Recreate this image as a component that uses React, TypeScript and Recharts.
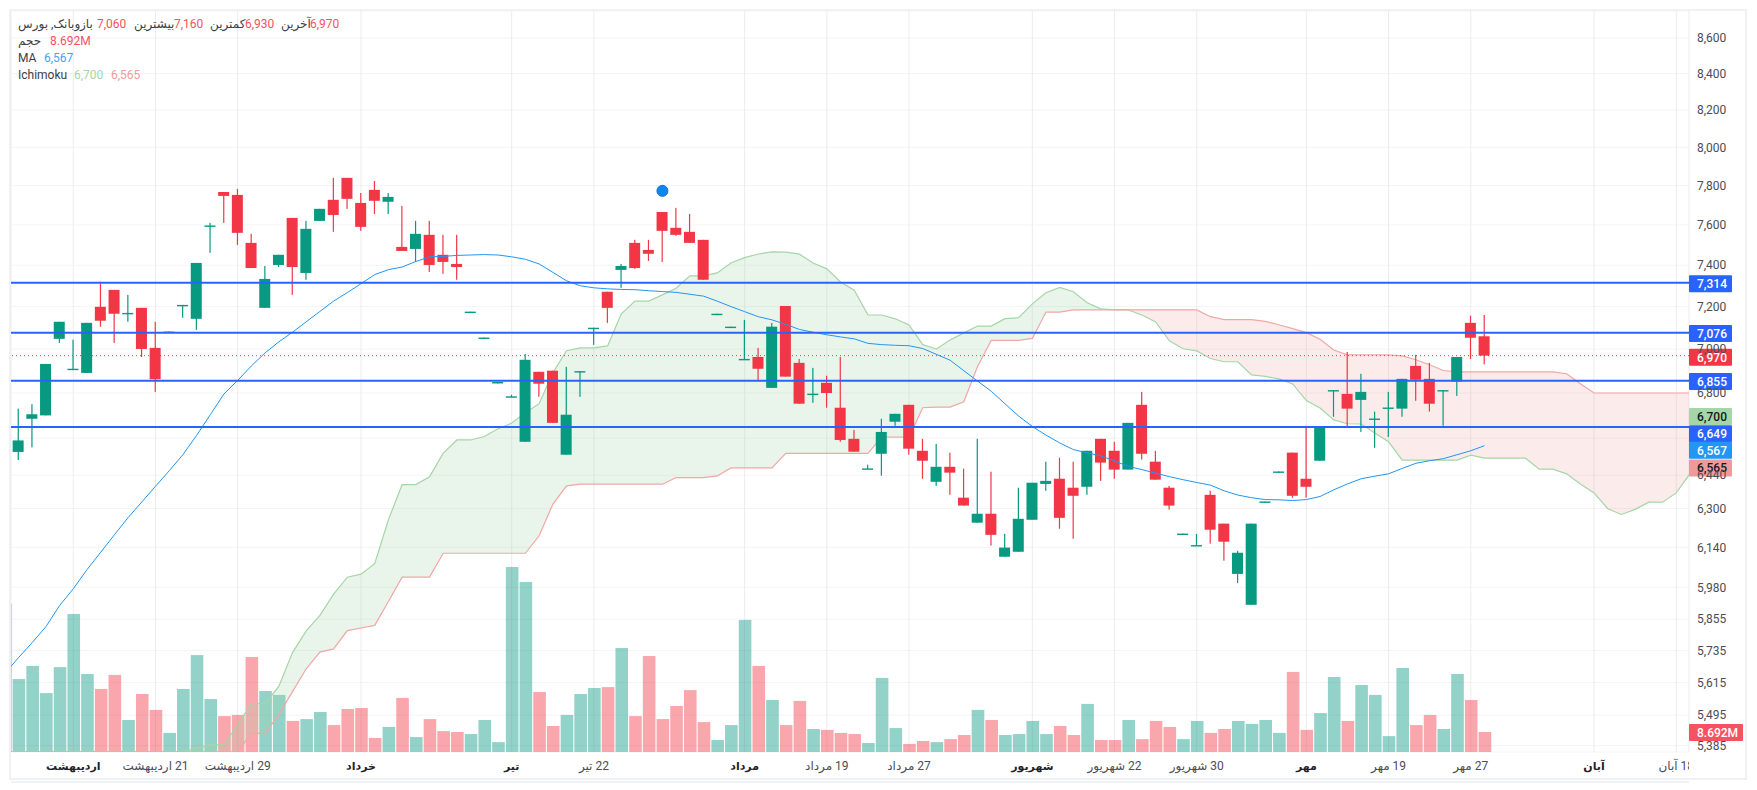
import React from 'react';
import { ComposedChart, Bar, Line, Area, XAxis, YAxis, CartesianGrid, ReferenceLine, ReferenceDot } from 'recharts';

const FONT = "Roboto, 'DejaVu Sans', sans-serif";
const UP = '#089981';
const DOWN = '#f23645';
const BLUE = '#2962ff';
const SPAN_A = '#a5d6a7';
const SPAN_B = '#ef9a9a';
const MA_COLOR = '#2196f3';

const opens = [
  6540,6685,6700,7048,6908,6891,7199,7280,7166,7194,
  7006,7078,7208,7142,7595,7767,7752,7510,7194,7401,
  7635,7362,7620,7727,7840,7711,7778,7717,7490,7480,
  7550,7451,7406,7172,7050,6843,6782,6584,6896,6901,
  6528,6899,7100,7271,7377,7510,7475,7665,7585,7565,
  7525,7162,7101,6952,6964,6823,7203,6937,6793,6846,
  6734,6597,6466,6532,6672,6747,6545,6412,6476,6345,
  6241,6278,6102,6122,6253,6403,6425,6387,6391,6597,
  6545,6464,6747,6498,6387,6192,6146,6357,6237,6033,
  5911,6325,6452,6537,6425,6502,6812,6796,6769,6682,
  6731,6730,6923,6864,6812,6852,7123,7060,
];
const highs = [
  6730,6750,6932,7128,7044,7123,7319,7280,7256,7194,
  7128,7082,7208,7411,7610,7767,7783,7555,7396,7451,
  7635,7620,7681,7840,7840,7762,7824,7762,7696,7620,
  7620,7550,7550,7176,7054,6850,6792,6978,6896,6901,
  6919,6899,7100,7271,7406,7525,7525,7665,7686,7655,
  7525,7166,7105,7137,7006,7123,7203,6955,6914,6878,
  6964,6636,6485,6685,6707,6747,6597,6575,6537,6468,
  6597,6455,6195,6387,6408,6498,6515,6498,6545,6597,
  6584,6667,6805,6545,6395,6196,6195,6374,6237,6126,
  6237,6329,6456,6537,6654,6646,6813,6987,6887,6717,
  6805,6864,6974,6937,6813,6964,7157,7160,
];
const lows = [
  6505,6560,6700,7029,6905,6891,7105,7029,7128,6964,
  6805,7078,7147,7090,7461,7610,7500,7386,7194,7391,
  7256,7329,7620,7565,7681,7570,7655,7655,7470,7416,
  7367,7358,7329,7172,7050,6843,6782,6584,6783,6667,
  6528,6783,7020,7123,7290,7382,7421,7416,7545,7510,
  7329,7162,7101,6952,6855,6823,6874,6752,6756,6734,
  6584,6541,6466,6438,6654,6528,6425,6395,6357,6312,
  6241,6147,6102,6122,6253,6374,6216,6175,6357,6416,
  6425,6464,6507,6421,6295,6192,6146,6155,6086,5997,
  5911,6325,6452,6345,6345,6502,6694,6650,6627,6558,
  6605,6694,6765,6717,6654,6787,6955,6930,
];
const closes = [
  6590,6705,6932,7128,6910,7123,7133,7166,7170,7001,
  6862,7082,7208,7411,7597,7747,7560,7386,7333,7451,
  7391,7580,7681,7650,7732,7590,7722,7742,7470,7555,
  7401,7416,7391,7176,7054,6850,6785,6951,6842,6667,
  6703,6899,7100,7194,7396,7386,7456,7570,7550,7510,
  7329,7166,7105,6955,6910,7105,6874,6752,6797,6800,
  6592,6541,6469,6627,6707,6554,6502,6476,6451,6312,
  6278,6191,6139,6257,6408,6416,6261,6353,6545,6494,
  6464,6667,6532,6421,6312,6196,6149,6212,6163,6118,
  6237,6329,6456,6353,6391,6646,6813,6730,6805,6686,
  6735,6864,6860,6752,6813,6964,7053,6970,
];
// The next lists start one bar before the first candle (partly hidden at the left edge).
const volumes = [
  64.6,
  31.7,37.4,25.6,36.9,60.0,33.9,27.4,33.5,13.9,25.2,
  18.3,8.3,27.4,42.1,23.0,15.6,16.1,41.3,26.5,24.8,
  13.5,14.3,17.4,11.7,18.7,19.1,6.1,10.9,23.5,6.5,
  14.3,9.1,8.7,7.8,13.9,4.3,80.4,73.9,26.1,11.3,
  16.1,25.2,27.8,28.2,45.2,15.6,41.7,14.3,20.0,26.9,
  13.0,5.2,11.7,57.4,37.4,22.6,11.7,22.2,10.0,9.6,
  8.3,7.8,3.9,32.2,10.4,3.5,4.8,4.3,5.6,7.4,
  18.3,13.9,7.4,7.8,13.5,7.8,11.3,7.4,20.9,5.2,
  5.2,13.9,5.6,13.5,10.9,5.6,13.5,8.3,10.0,13.5,
  12.2,13.9,8.3,34.8,9.6,16.9,32.6,13.5,29.1,24.8,
  6.9,36.5,11.7,16.1,10.0,33.9,22.6,8.692,
];
const maValues = [
  5648,
  5708,5765,5826,5908,5974,6050,6120,6191,6262,6327,
  6393,6459,6528,6612,6703,6796,6857,6923,6983,7034,
  7079,7128,7177,7226,7267,7310,7354,7378,7391,7418,
  7441,7443,7448,7450,7452,7450,7441,7429,7406,7365,
  7324,7300,7290,7285,7282,7281,7276,7272,7268,7259,
  7250,7226,7200,7176,7152,7137,7116,7092,7079,7067,
  7057,7048,7027,7021,7018,7016,7003,6976,6949,6901,
  6854,6808,6752,6697,6651,6613,6579,6550,6536,6523,
  6501,6478,6464,6449,6434,6421,6409,6398,6374,6356,
  6345,6337,6336,6333,6337,6350,6378,6403,6425,6436,
  6446,6469,6491,6502,6511,6528,6545,6567,
];
const spanA = [
  5363,
  5363,5363,5363,5363,5363,5363,5363,5363,5363,5363,
  5363,5363,5363,5377,5388,5388,5461,5537,5537,5600,
  5727,5810,5870,5953,6020,6032,6074,6253,6400,6400,
  6433,6535,6592,6592,6607,6641,6666,6712,6752,6891,
  6993,7006,7006,7015,7166,7226,7226,7256,7288,7348,
  7348,7362,7411,7437,7455,7465,7464,7454,7411,7382,
  7318,7278,7161,7160,7142,7113,7021,7001,7043,7076,
  7108,7108,7143,7147,7213,7266,7292,7271,7218,7189,
  7184,7184,7160,7127,7039,7002,6992,6957,6942,6942,
  6882,6875,6864,6841,6766,6733,6680,6663,6662,6622,
  6584,6505,6505,6505,6505,6505,6526,6513,6513,6513,
  6513,6466,6466,6446,6403,6365,6299,6275,6296,6326,
  6326,6365,6446,
];
const spanB = [
  5363,
  5363,5363,5363,5363,5363,5363,5363,5363,5363,5363,
  5363,5363,5363,5363,5363,5363,5363,5429,5429,5497,
  5581,5666,5729,5741,5811,5821,5831,5924,6020,6020,
  6020,6116,6116,6116,6116,6116,6116,6116,6187,6317,
  6395,6402,6402,6402,6402,6402,6402,6402,6430,6430,
  6430,6437,6471,6471,6471,6471,6534,6534,6534,6534,
  6534,6534,6534,6604,6604,6604,6734,6737,6737,6761,
  6920,7041,7041,7041,7050,7174,7174,7184,7184,7184,
  7184,7184,7184,7184,7184,7184,7184,7152,7138,7138,
  7138,7130,7114,7096,7077,7046,6996,6974,6974,6974,
  6974,6969,6951,6928,6902,6896,6896,6896,6896,6896,
  6896,6896,6896,6887,6842,6800,6800,6800,6800,6800,
  6800,6800,6800,
];

const priceTicks = [8600,8400,8200,8000,7800,7600,7400,7200,7000,6800,6600,6440,6300,6140,5980,5855,5735,5615,5495,5385];
const hiddenTickLabels = [6600];
const dateTickIndex = [4,10,16,25,36,42,53,59,65,74,80,86,94,100,106,115,121];
const dateTickLabels = ['اردیبهشت','21 اردیبهشت','29 اردیبهشت','خرداد','تیر','22 تیر','مرداد','19 مرداد','27 مرداد','شهریور','22 شهریور','30 شهریور','مهر','19 مهر','27 مهر','آبان','18 آبان'];
const monthTicks = [4,25,36,53,74,94,115];

const levelLines = [7314, 7076, 6855, 6649];
const lastClose = 6970;
const lastVolume = 8.692;
const signalIndex = 47;
const signalPrice = 7773;
const legendRows = [
  { top: 15, items: [
    { x: 18, t: 'وبانک, بورس', c: '#3b3e47' }, { x: 80, t: 'باز', c: '#3b3e47' }, { x: 97, t: '7,060', c: '#f7525f' },
    { x: 134, t: 'بیشترین', c: '#3b3e47' }, { x: 174, t: '7,160', c: '#f7525f' }, { x: 210, t: 'کمترین', c: '#3b3e47' },
    { x: 245, t: '6,930', c: '#f7525f' }, { x: 281, t: 'آخرین', c: '#3b3e47' }, { x: 310, t: '6,970', c: '#f7525f' },
  ] },
  { top: 32, items: [{ x: 18, t: 'حجم', c: '#3b3e47' }, { x: 50, t: '8.692M', c: '#f7525f' }] },
  { top: 49, items: [{ x: 18, t: 'MA', c: '#3b3e47' }, { x: 44, t: '6,567', c: '#42a5f5' }] },
  { top: 66, items: [{ x: 18, t: 'Ichimoku', c: '#3b3e47' }, { x: 74, t: '6,700', c: '#a5d6a7' }, { x: 111, t: '6,565', c: '#ef9a9a' }] },
];

const rows = spanA.map((_, k) => {
  const c = k - 1;
  const o = opens[c];
  const hasCandle = o !== undefined;
  const a = spanA[k];
  const b = spanB[k];
  return {
    i: c,
    volume: volumes[k] ?? null,
    ma: maValues[k] ?? null,
    a,
    b,
    cloudUp: c <= 81 ? [b, a] : null,
    cloudDown: c >= 81 ? [a, b] : null,
    wick: hasCandle ? [lows[c], highs[c]] : null,
    body: hasCandle ? [Math.min(o, closes[c]), Math.max(o, closes[c])] : null,
    up: hasCandle ? closes[c] >= o : k > 0 ? false : true,
  };
});

const XMIN = -0.547;
const XMAX = 121.93;

function CandlePart(p: any) {
  if (!p.payload || !p.payload.body) return null;
  const color = p.payload.up ? UP : DOWN;
  const h = Math.max(p.height, 1.4);
  return <rect x={p.x} y={p.y} width={p.width} height={h} fill={color} />;
}

function VolumePart(p: any) {
  if (p.height == null || p.height <= 0) return null;
  return <rect x={p.x} y={p.y} width={p.width} height={p.height} fill={p.payload.up ? UP : DOWN} fillOpacity={0.44} />;
}

function DateTick(p: any) {
  const idx = p.payload.value;
  const pos = dateTickIndex.indexOf(idx);
  const id = `date-clip-${idx}`;
  const month = monthTicks.includes(idx);
  return (
    <g>
      <clipPath id={id}><rect x={0} y={740} width={1689} height={50} /></clipPath>
      <g clipPath={`url(#${id})`}>
        <text x={p.x} y={770} textAnchor="middle" direction="rtl" fontFamily={FONT} fontSize={month ? 11 : 12}
          fontWeight={month ? 700 : 400} fill={month ? '#1f222b' : '#4a4d57'}>
          {dateTickLabels[pos]}
        </text>
      </g>
    </g>
  );
}

function tag(text: string, bg: string, fg: string, dy: number, w = 43) {
  return (props: any) => {
    const vb = props.viewBox;
    const x = vb.x + vb.width;
    const cy = vb.y + dy;
    return (
      <g>
        <rect x={x} y={cy - 8.5} width={w} height={17} rx={1} fill={bg} />
        <text x={x + 8} y={cy + 4.3} fontFamily={FONT} fontSize={12} fontWeight={500} fill={fg}>{text}</text>
      </g>
    );
  };
}

const levelTags = [
  { v: 7314, dy: 1 },
  { v: 7076, dy: 0.7 },
  { v: 6855, dy: 0.7 },
  { v: 6649, dy: 6.8 },
];

export default function App() {
  return (
    <div style={{ position: 'absolute', left: 0, top: 0, width: 1757, height: 790, background: '#fff', overflow: 'hidden' }}>
      <div style={{ position: 'absolute', left: 9, top: 9, width: 1734, height: 767, border: '2px solid #f0f1f4' }} />
      <div style={{ position: 'absolute', left: 0, top: 0 }}>
        <ComposedChart width={1757} height={790} data={rows} margin={{ left: 11, top: 11, right: 0, bottom: 0 }}>
          <XAxis xAxisId="main" dataKey="i" type="number" domain={[XMIN, XMAX]} allowDataOverflow ticks={dateTickIndex} interval={0}
            height={38} tickLine={false} axisLine={{ stroke: '#e0e3eb' }} tick={<DateTick />} />
          <XAxis xAxisId="bodies" dataKey="i" type="number" domain={[XMIN, XMAX]} allowDataOverflow hide />
          <XAxis xAxisId="vols" dataKey="i" type="number" domain={[XMIN, XMAX]} allowDataOverflow hide />
          <YAxis yAxisId="price" orientation="right" scale="log" domain={[5362.5, 8755]} allowDataOverflow ticks={priceTicks} interval={0}
            width={68} tickLine={false} axisLine={false} tickMargin={2} zIndex={-50}
            tick={{ fontSize: 12, fill: '#4a4d57', fontFamily: FONT }}
            tickFormatter={(v: number) => (hiddenTickLabels.includes(v) ? '' : v.toLocaleString('en-US'))} />
          <YAxis yAxisId="vol" hide domain={[0, 322]} allowDataOverflow />
          <CartesianGrid xAxisId="main" yAxisId="price" vertical={false} stroke="#f3f4f6" />
          <CartesianGrid xAxisId="main" yAxisId="price" horizontal={false} stroke="#ebecef" />

          <Bar xAxisId="vols" yAxisId="vol" dataKey="volume" barSize={12.6} isAnimationActive={false} shape={<VolumePart />} zIndex={50} />

          <Area xAxisId="main" yAxisId="price" dataKey="cloudUp" stroke="none" fill={SPAN_A} fillOpacity={0.24} dot={false} activeDot={false} isAnimationActive={false} zIndex={100} />
          <Area xAxisId="main" yAxisId="price" dataKey="cloudDown" stroke="none" fill={SPAN_B} fillOpacity={0.2} dot={false} activeDot={false} isAnimationActive={false} zIndex={100} />
          <Line xAxisId="main" yAxisId="price" dataKey="a" stroke={SPAN_A} strokeWidth={1.2} dot={false} activeDot={false} isAnimationActive={false} zIndex={150} />
          <Line xAxisId="main" yAxisId="price" dataKey="b" stroke="#f2a6a6" strokeWidth={1.2} dot={false} activeDot={false} isAnimationActive={false} zIndex={150} />

          <Bar xAxisId="main" yAxisId="price" dataKey="wick" barSize={1.2} isAnimationActive={false} shape={<CandlePart />} zIndex={300} />
          <Bar xAxisId="bodies" yAxisId="price" dataKey="body" barSize={11} isAnimationActive={false} shape={<CandlePart />} zIndex={310} />

          <Line xAxisId="main" yAxisId="price" dataKey="ma" stroke={MA_COLOR} strokeWidth={1} dot={false} activeDot={false} isAnimationActive={false} zIndex={400} />

          <ReferenceDot xAxisId="main" yAxisId="price" x={signalIndex} y={signalPrice} r={5.5} fill="#0a88f2" stroke="#1c6fc4" strokeWidth={1} />

          {levelLines.map((v) => (
            <ReferenceLine key={v} xAxisId="main" yAxisId="price" y={v} stroke={BLUE} strokeWidth={2}
              label={tag(v.toLocaleString('en-US'), BLUE, '#ffffff', levelTags.find((t) => t.v === v)!.dy)} />
          ))}
          <ReferenceLine xAxisId="main" yAxisId="price" y={lastClose} stroke={DOWN} strokeWidth={1} strokeDasharray="1 3"
            label={tag('6,970', DOWN, '#ffffff', 1.7)} />
          <ReferenceLine xAxisId="main" yAxisId="price" y={6700} stroke="none" label={tag('6,700', SPAN_A, '#131722', 1.2)} />
          <ReferenceLine xAxisId="main" yAxisId="price" y={6567} stroke="none" label={tag('6,567', MA_COLOR, '#ffffff', 4.6)} />
          <ReferenceLine xAxisId="main" yAxisId="price" y={6565} stroke="none" label={tag('6,565', SPAN_B, '#131722', 21.8)} />
          <ReferenceLine xAxisId="vols" yAxisId="vol" y={lastVolume} stroke="none" label={tag('8.692M', '#f7525f', '#ffffff', 0.5, 54)} />
        </ComposedChart>
      </div>
      {legendRows.map((row, r) =>
        row.items.map((it, n) => (
          <span key={`${r}-${n}`} style={{ position: 'absolute', left: it.x, top: row.top, fontFamily: FONT, fontSize: 12, lineHeight: '18px', color: it.c, whiteSpace: 'nowrap' }}>
            {it.t}
          </span>
        ))
      )}
    </div>
  );
}
